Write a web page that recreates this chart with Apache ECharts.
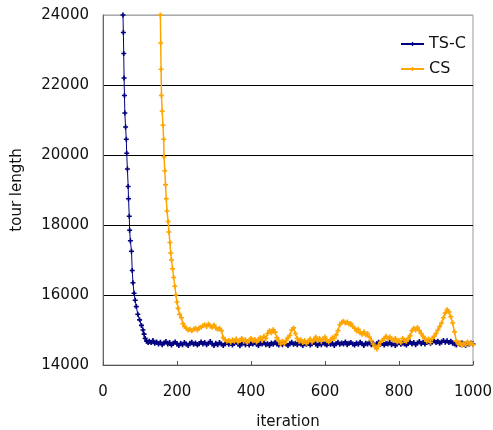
<!DOCTYPE html>
<html>
<head>
<meta charset="utf-8">
<script src="https://cdn.jsdelivr.net/npm/echarts@6/dist/echarts.min.js"></script>
<style>html,body{margin:0;padding:0;background:#fff;}#c{width:493px;height:430px;}</style>
</head>
<body>
<div id="c"></div>
<script>
var xTicks = [0, 200, 400, 600, 800, 1000];
var yTicks = [14000, 16000, 18000, 20000, 22000, 24000];

var tscIter = [54,55,56,57,58,59,61,63,64,66,68,69,71,72,74,77,79,81,84,87,90,94,99,104,108,111,114,118,122,
125,130,135,140,145,150,155,160,165,170,
175,180,185,190,195,200,205,210,215,220,
225,230,235,240,245,250,255,260,265,270,
275,280,285,290,295,300,305,310,315,320,
325,330,335,340,345,350,355,360,365,370,
375,380,385,390,395,400,405,410,415,420,
425,430,435,440,445,450,455,460,465,470,
475,480,485,490,495,500,505,510,515,520,
525,530,535,540,545,550,555,560,565,570,
575,580,585,590,595,600,605,610,615,620,
625,630,635,640,645,650,655,660,665,670,
675,680,685,690,695,700,705,710,715,720,
725,730,735,740,745,750,755,760,765,770,
775,780,785,790,795,800,805,810,815,820,
825,830,835,840,845,850,855,860,865,870,
875,880,885,890,895,900,905,910,915,920,
925,930,935,940,945,950,955,960,965,970,
975,980,985,990,995,1000];
var tscLen = [24000,23500,22900,22200,21700,21200,20800,20450,20050,19600,19100,18750,18250,17850,17550,17250,16700,16350,16050,15850,15670,15450,15290,15130,15000,14880,14760,14680,14640,
14680,14640,14700,14620,14660,14600,14650,14580,14630,14670,
14600,14640,14570,14620,14660,14600,14560,14620,14580,14640,
14600,14560,14620,14650,14590,14630,14570,14610,14660,14600,
14640,14580,14620,14670,14600,14560,14620,14580,14640,14600,
14560,14610,14650,14590,14630,14570,14620,14660,14600,14550,
14610,14640,14580,14620,14570,14630,14600,14650,14590,14560,
14620,14600,14640,14580,14610,14560,14630,14590,14650,14600,
14570,14620,14580,14640,14600,14560,14610,14650,14590,14620,
14580,14630,14600,14560,14620,14590,14640,14570,14610,14650,
14600,14560,14620,14580,14640,14600,14570,14630,14590,14620,
14560,14610,14650,14590,14630,14600,14660,14580,14620,14640,
14600,14570,14630,14590,14650,14610,14560,14620,14600,14640,
14580,14620,14560,14610,14650,14590,14630,14570,14620,14600,
14640,14580,14620,14560,14600,14650,14590,14630,14600,14570,
14620,14660,14600,14640,14580,14630,14670,14610,14650,14600,
14640,14680,14620,14660,14700,14640,14680,14620,14660,14700,
14650,14690,14640,14680,14620,14600,14570,14620,14590,14630,
14600,14560,14620,14590,14640,14600];

var csIter = [155,156,157,158,160,162,164,165,167,169,171,173,176,178,181,183,185,188,191,194,197,200,203,207,212,216,220,
225,230,235,240,245,250,255,260,265,270,
275,280,285,290,295,300,305,310,315,320,325,
330,335,340,345,350,355,360,365,370,
375,380,385,390,395,400,405,410,415,420,
425,430,435,440,445,450,455,460,465,470,
475,480,485,490,495,500,505,510,515,520,
525,530,535,540,545,550,555,560,565,570,
575,580,585,590,595,600,605,610,615,620,
625,630,635,640,645,650,655,660,665,670,
675,680,685,690,695,700,705,710,715,720,
725,730,735,740,745,750,755,760,765,770,
775,780,785,790,795,800,805,810,815,820,
825,830,835,840,845,850,855,860,865,870,
875,880,885,890,895,900,905,910,915,920,
925,930,935,940,945,950,955,960,965,970,
975,980,985,990,995,1000];
var csLen = [24000,23200,22450,21700,21250,20850,20450,19950,19550,19150,18750,18400,18100,17800,17500,17200,17000,16750,16500,16250,16000,15800,15620,15450,15350,15180,15100,
15050,15000,15020,14980,15020,15050,15000,15060,15080,15120,
15150,15100,15170,15110,15080,15140,15060,15020,15050,14980,14780,
14720,14680,14700,14650,14720,14680,14740,14660,14700,
14760,14680,14720,14640,14700,14760,14690,14730,14660,14720,
14780,14700,14820,14760,14900,14980,14920,15010,14940,14780,
14700,14600,14680,14620,14700,14780,14850,15000,15060,14900,
14760,14680,14720,14640,14700,14620,14680,14740,14660,14720,
14800,14700,14760,14680,14740,14800,14700,14660,14720,14780,
14760,14860,14980,15150,15220,15250,15200,15230,15170,15180,
15100,15050,14980,15020,14920,14880,14950,14860,14900,14800,
14700,14600,14520,14460,14560,14650,14700,14760,14820,14760,
14800,14740,14700,14760,14660,14700,14640,14760,14700,14680,
14760,14840,14980,15050,15000,15070,14980,14900,14820,14760,
14680,14740,14650,14760,14820,14900,15000,15100,15200,15350,
15480,15580,15520,15380,15200,14950,14680,14600,14640,14560,
14620,14580,14660,14600,14640,14580];

function pairs(xs, ys) { var out = []; for (var i = 0; i < xs.length; i++) out.push([xs[i], ys[i]]); return out; }
function plain(v) { return String(v); }

var plus = 'path://M1,0H2V1H3V2H2V3H1V2H0V1H1Z';
var font = 'DejaVu Sans';
var chart = echarts.init(document.getElementById('c'), null, {renderer: 'canvas'});
chart.setOption({
  animation: false,
  backgroundColor: '#fff',
  textStyle: {fontFamily: font},
  grid: {left: 103, right: 20, top: 15, bottom: 65, containLabel: false, outerBoundsMode: 'none',
         show: true, borderColor: '#999', borderWidth: 1, backgroundColor: 'transparent'},
  legend: {
    orient: 'vertical', left: 395, top: 30, itemWidth: 23, itemHeight: 5, itemGap: 7,
    textStyle: {fontFamily: font, fontSize: 16, color: '#111', lineHeight: 18},
    data: ['TS-C', 'CS']
  },
  xAxis: {
    type: 'value', min: xTicks[0], max: xTicks[xTicks.length - 1], interval: 200,
    name: 'iteration', nameLocation: 'middle', nameGap: 50,
    nameTextStyle: {fontFamily: font, fontSize: 15, color: '#111'},
    axisLine: {show: true, lineStyle: {color: '#555', width: 1}},
    axisTick: {show: true, inside: true, length: 4, lineStyle: {color: '#555'}},
    axisLabel: {fontFamily: font, fontSize: 15, color: '#111', margin: 20, formatter: plain},
    splitLine: {show: false}
  },
  yAxis: {
    type: 'value', min: yTicks[0], max: yTicks[yTicks.length - 1], interval: 2000,
    name: 'tour length', nameLocation: 'middle', nameGap: 78, nameRotate: 90,
    nameTextStyle: {fontFamily: font, fontSize: 15, color: '#111'},
    axisLine: {show: true, lineStyle: {color: '#666', width: 1}},
    axisTick: {show: false},
    axisLabel: {fontFamily: font, fontSize: 15, color: '#111', margin: 14, formatter: plain},
    splitLine: {show: true, lineStyle: {color: ['#000', '#000', '#000', '#000', '#000', '#aaa'], width: 1}}
  },
  series: [
    {
      name: 'TS-C', type: 'line', data: pairs(tscIter, tscLen),
      color: '#000080', symbol: plus, symbolSize: 5, showSymbol: true,
      lineStyle: {color: '#000080', width: 1}, itemStyle: {color: '#000080'}, clip: true
    },
    {
      name: 'CS', type: 'line', data: pairs(csIter, csLen),
      color: '#FFA500', symbol: plus, symbolSize: 5, showSymbol: true,
      lineStyle: {color: '#FFA500', width: 1.5}, itemStyle: {color: '#FFA500'}, clip: true
    }
  ]
});
</script>
</body>
</html>
